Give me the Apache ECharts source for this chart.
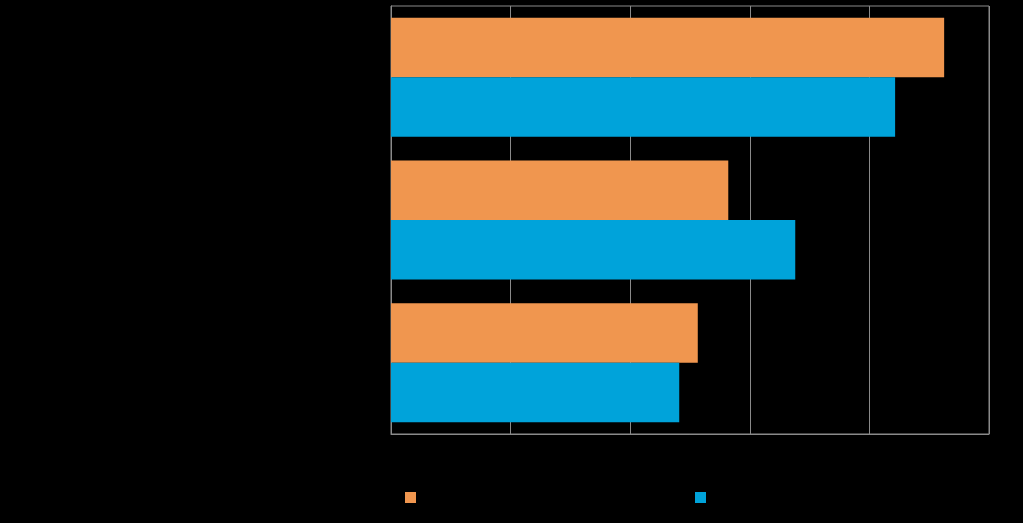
<!DOCTYPE html>
<html>
<head>
<meta charset="UTF-8">
<script src="https://cdn.jsdelivr.net/npm/echarts@6/dist/echarts.min.js"></script>
<style>
  html, body { margin: 0; padding: 0; background: #000; }
  #main { width: 1023px; height: 523px; }
</style>
</head>
<body>
<div id="main"></div>
<script>
// data (labels are drawn black on black in the original)
var categories = ['Kategorie A', 'Kategorie B', 'Kategorie C'];
var seriesNames = ['2019', '2020'];
var orangeValues = [92.5, 56.4, 51.3];
var blueValues = [84.3, 67.6, 48.2];
var xTicks = [0, 20, 40, 60, 80, 100];

var chart = echarts.init(document.getElementById('main'));

var gridColor = '#8a8a8a';

chart.setOption({
  backgroundColor: '#000000',
  animation: false,
  textStyle: { fontFamily: 'Liberation Sans', color: '#000000' },
  grid: {
    left: 391, right: 34, top: 6, bottom: 89,
    show: true, borderColor: gridColor, borderWidth: 1,
    backgroundColor: 'transparent'
  },
  legend: [
    {
      data: [seriesNames[0]], left: 400, top: 486,
      icon: 'rect', itemWidth: 11, itemHeight: 11,
      textStyle: { color: '#000000', fontSize: 13 }
    },
    {
      data: [seriesNames[1]], left: 690, top: 486,
      icon: 'rect', itemWidth: 11, itemHeight: 11,
      textStyle: { color: '#000000', fontSize: 13 }
    }
  ],
  xAxis: {
    type: 'value',
    min: xTicks[0],
    max: xTicks[xTicks.length - 1],
    interval: 20,
    axisLine: { show: true, lineStyle: { color: gridColor } },
    axisTick: { show: false },
    axisLabel: { color: '#000000', fontSize: 13 },
    splitLine: { show: true, lineStyle: { color: gridColor, width: 1 } }
  },
  yAxis: {
    type: 'category',
    data: categories,
    inverse: true,
    axisLine: { show: true, lineStyle: { color: gridColor } },
    axisTick: { show: false },
    axisLabel: { color: '#000000', fontSize: 13 },
    splitLine: { show: false }
  },
  series: [
    {
      name: seriesNames[0], type: 'bar', data: orangeValues,
      itemStyle: { color: '#F0964F' },
      barGap: '0%', barCategoryGap: '16.6%'
    },
    {
      name: seriesNames[1], type: 'bar', data: blueValues,
      itemStyle: { color: '#00A3DA' },
      barGap: '0%', barCategoryGap: '16.6%'
    }
  ]
});
</script>
</body>
</html>
